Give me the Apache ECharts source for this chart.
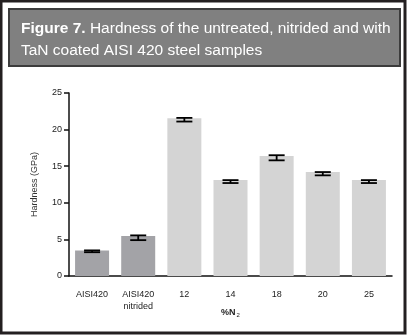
<!DOCTYPE html>
<html>
<head>
<meta charset="utf-8">
<script src="https://cdn.jsdelivr.net/npm/echarts@6/dist/echarts.min.js"></script>
<style>
  html, body { margin: 0; padding: 0; background: #fff; }
  #chart { width: 408px; height: 336px; }
</style>
</head>
<body>
<div id="chart"></div>
<script>
// sample groups on the x axis
const categories = ['AISI420', 'AISI420\nnitrided', '12', '14', '18', '20', '25']
// hardness (GPa), bar heights
const hardness = [3.5, 5.45, 21.55, 13.1, 16.4, 14.2, 13.1]
// error bar ends (GPa)
const errLow = [3.25, 4.9, 21.1, 12.7, 15.8, 13.75, 12.7]
const errHigh = [3.5, 5.55, 21.6, 13.1, 16.5, 14.2, 13.1]
const yTicks = [0, 5, 10, 15, 20, 25]

const chart = echarts.init(document.getElementById('chart'))

const option = {
  animation: false,
  backgroundColor: '#fff',
  graphic: [
    // outer frame
    { type: 'rect', shape: { x: 1, y: 1, width: 404, height: 332 },
      style: { fill: 'none', stroke: '#231f20', lineWidth: 3 } },
    // title box
    { type: 'rect', shape: { x: 9, y: 9, width: 391, height: 57 },
      style: { fill: '#808080', stroke: '#3c3c3c', lineWidth: 2 } }
  ],
  title: {
    left: 16,
    top: 13,
    text: '{b|Figure 7.} Hardness of the untreated, nitrided and with\nTaN coated AISI 420 steel samples',
    textStyle: {
      color: '#fff',
      fontFamily: 'Liberation Sans',
      fontSize: 15.5,
      fontWeight: 'normal',
      lineHeight: 22,
      rich: {
        b: { color: '#fff', fontFamily: 'Liberation Sans', fontSize: 15.5, fontWeight: 'bold', lineHeight: 22 }
      }
    }
  },
  grid: { left: 69, right: 16, top: 93, bottom: 60 },
  xAxis: {
    type: 'category',
    data: categories,
    name: '{t|%N}{s|2}',
    nameLocation: 'middle',
    nameGap: 31,
    nameMoveOverlap: false,
    nameTextStyle: {
      rich: {
        t: { fontFamily: 'Liberation Sans', fontSize: 9, color: '#222', fontWeight: 'bold' },
        s: { fontFamily: 'Liberation Sans', fontSize: 6, color: '#222', padding: [5, 0, 0, 1] }
      }
    },
    axisLine: { lineStyle: { color: '#111', width: 1.5 } },
    axisTick: { alignWithLabel: true, length: 5, lineStyle: { color: '#111', width: 1.5 } },
    axisLabel: { color: '#222', fontFamily: 'Liberation Sans', fontSize: 9, margin: 13, lineHeight: 12 }
  },
  yAxis: {
    type: 'value',
    min: yTicks[0],
    max: yTicks[yTicks.length - 1],
    interval: 5,
    name: 'Hardness (GPa)',
    nameLocation: 'middle',
    nameGap: 30,
    nameMoveOverlap: false,
    nameTextStyle: { color: '#333', fontFamily: 'Liberation Sans', fontSize: 9 },
    axisLine: { show: true, lineStyle: { color: '#111', width: 1.5 } },
    axisTick: { show: true, length: 5, lineStyle: { color: '#111', width: 1.5 } },
    axisLabel: { color: '#222', fontFamily: 'Liberation Sans', fontSize: 9, margin: 7 },
    splitLine: { show: false }
  },
  series: [
    {
      type: 'bar',
      data: hardness,
      barWidth: 34,
      itemStyle: {
        // untreated and nitrided are darker
        color: p => (p.dataIndex < 2 ? '#a3a3a7' : '#d4d4d4')
      }
    },
    {
      type: 'custom',
      data: categories.map((c, i) => [i, errLow[i], errHigh[i]]),
      renderItem: (params, api) => {
        const lo = api.coord([api.value(0), api.value(1)])
        const hi = api.coord([api.value(0), api.value(2)])
        const w = 8
        const style = { stroke: '#000', lineWidth: 1.8 }
        return {
          type: 'group',
          children: [
            { type: 'line', shape: { x1: hi[0], y1: hi[1], x2: lo[0], y2: lo[1] }, style },
            { type: 'line', shape: { x1: hi[0] - w, y1: hi[1], x2: hi[0] + w, y2: hi[1] }, style },
            { type: 'line', shape: { x1: lo[0] - w, y1: lo[1], x2: lo[0] + w, y2: lo[1] }, style }
          ]
        }
      },
      z: 5
    }
  ]
}

chart.setOption(option)
</script>
</body>
</html>
